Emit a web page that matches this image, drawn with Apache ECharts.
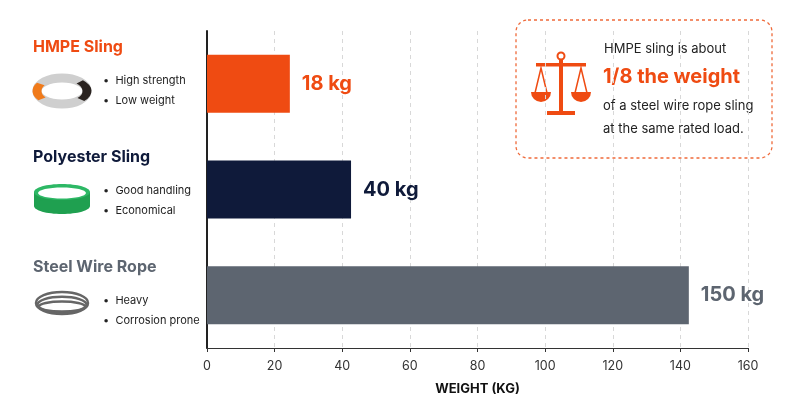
<!DOCTYPE html>
<html><head><meta charset="utf-8">
<script src="https://cdn.jsdelivr.net/npm/echarts@6/dist/echarts.min.js"></script>
<style>html,body{margin:0;background:#fff}#c{width:800px;height:415px}</style>
</head><body><div id="c"></div>
<script>
const categories = ['HMPE Sling','Polyester Sling','Steel Wire Rope'];
const barValues = [24.5, 42.6, 142.5];
const barLabels = ['18 kg','40 kg','150 kg'];
const colors = ['#ef4b12','#0f1a3a','#5d6570'];
const bullets = [['High strength','Low weight'],['Good handling','Economical'],['Heavy','Corrosion prone']];
const titleColors = ['#ef4b12','#0f1a3a','#5d6570'];
const F = 'Inter, "Noto Sans", sans-serif';
const chart = echarts.init(document.getElementById('c'));
const g = [];
const ys = [48, 158, 268];
categories.forEach((c,i)=>{
  const y = ys[i];
  g.push({type:'text',left:33,top:y-9,style:{text:c,font:'bold 16px '+F,fill:titleColors[i]}});
  bullets[i].forEach((b,j)=>g.push({type:'text',left:103,top:y+27+j*20,style:{text:'•  '+b,font:'11px '+F,fill:'#222'}}));
});
// icons
g.push({type:'ellipse',shape:{cx:62,cy:91,rx:25,ry:13},style:{fill:'none',stroke:'#cfcfcf',lineWidth:9}});
g.push({type:'arc',shape:{cx:62,cy:91,r:25,startAngle:2.5,endAngle:3.7},scaleY:0.52,originX:62,originY:91,style:{fill:'none',stroke:'#f07a1a',lineWidth:9}});
g.push({type:'arc',shape:{cx:62,cy:91,r:25,startAngle:5.5,endAngle:7.0},scaleY:0.52,originX:62,originY:91,style:{fill:'none',stroke:'#2a2320',lineWidth:9}});
g.push({type:'rect',shape:{x:34,y:192,width:56,height:14,r:0},style:{fill:'#1fa050'}});
g.push({type:'ellipse',shape:{cx:62,cy:206,rx:28,ry:8},style:{fill:'#1fa050'}});
g.push({type:'ellipse',shape:{cx:62,cy:192,rx:28,ry:8},style:{fill:'#2db865'}});
g.push({type:'ellipse',shape:{cx:62,cy:193,rx:24,ry:5.5},style:{fill:'#fff'}});
[0,3,6].forEach(d=>g.push({type:'ellipse',shape:{cx:62,cy:303+d*0.6,rx:26-d*0.5,ry:11-d},style:{fill:'none',stroke:'#666',lineWidth:2.5}}));
// callout
g.push({type:'rect',shape:{x:516,y:20,width:256,height:138,r:12},style:{fill:'#fff',stroke:'#ef6a3a',lineWidth:1.3,lineDash:[3,3]}});
const o='#ef4b12';
g.push({type:'circle',shape:{cx:561,cy:56,r:3.5},style:{fill:'none',stroke:o,lineWidth:2}});
g.push({type:'rect',shape:{x:559,y:60,width:4,height:54},style:{fill:o}});
g.push({type:'rect',shape:{x:536,y:63,width:50,height:3.5},style:{fill:o}});
g.push({type:'rect',shape:{x:547,y:111,width:28,height:4},style:{fill:o}});
[541,581].forEach(x=>{
  g.push({type:'polyline',shape:{points:[[x-6,93],[x,68],[x+6,93]]},style:{fill:'none',stroke:o,lineWidth:1.5}});
  g.push({type:'sector',shape:{cx:x,cy:92,r0:0,r:10,startAngle:0,endAngle:Math.PI},style:{fill:o}});
});
g.push({type:'text',left:604,top:43,style:{text:'HMPE sling is about',font:'13px '+F,fill:'#222'}});
g.push({type:'text',left:603,top:67,style:{text:'1/8 the weight',font:'bold 20px '+F,fill:o}});
g.push({type:'text',left:603,top:100,style:{text:'of a steel wire rope sling',font:'13px '+F,fill:'#222'}});
g.push({type:'text',left:603,top:123,style:{text:'at the same rated load.',font:'13px '+F,fill:'#222'}});

chart.setOption({
  animation:false,
  grid:{left:207,right:52,top:31,height:317},
  xAxis:{type:'value',min:0,max:160,interval:20,
    axisLine:{show:true,lineStyle:{color:'#333'}},axisTick:{show:true,length:4,lineStyle:{color:'#333'}},
    axisLabel:{color:'#333',fontSize:12.5,fontFamily:F,margin:12},
    splitLine:{show:true,lineStyle:{type:[4,4],color:'#d8d8d8'}},
    name:'WEIGHT (KG)',nameLocation:'middle',nameGap:35,nameTextStyle:{fontWeight:'bold',fontSize:13,color:'#111',fontFamily:F}},
  yAxis:{type:'category',data:categories,inverse:true,axisLabel:{show:false},axisTick:{show:false},
    axisLine:{show:true,lineStyle:{color:'#222',width:2}}},
  series:[{type:'bar',barWidth:58,
    data:barValues.map((v,i)=>({value:v,itemStyle:{color:colors[i]},
      label:{show:true,position:'right',distance:12,formatter:barLabels[i],color:colors[i],fontSize:20,fontWeight:'bold',fontFamily:F}}))}],
  graphic:g
});
</script></body></html>
